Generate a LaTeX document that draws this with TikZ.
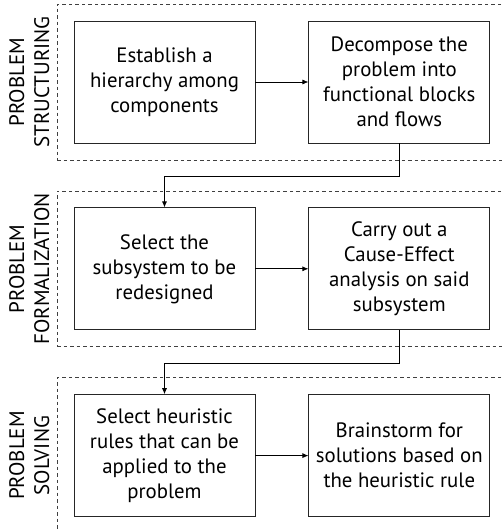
\documentclass[tikz,border=0pt]{standalone}
\usepackage{fontspec}
\setmainfont{PT Sans}
\usetikzlibrary{arrows.meta,positioning,fit}

\tikzset{
	block/.style={draw=black!85, line width=0.8pt, minimum width=181pt, minimum height=122pt,
		inner sep=0pt, align=center, font=\fontsize{20.8}{25}\selectfont},
	phase/.style={draw=black!75, line width=0.8pt, dash pattern=on 3.5pt off 3pt, inner sep=16.5pt},
	phaselabel/.style={rotate=90, align=center, font=\fontsize{21}{25}\selectfont},
	flow/.style={-{Latex[length=6pt,width=5pt]}, line width=0.7pt}
}

\begin{document}
\begin{tikzpicture}[x=1pt,y=-1pt]
	\clip (0,0) rectangle (502,531);

	% first row
	\node[block] (hierarchy) at (164.5,82) {Establish a\\hierarchy among\\components};
	\node[block, right=53pt of hierarchy] (decompose) {Decompose the\\problem into\\functional blocks\\and flows};

	% second row
	\node[block, below=64pt of hierarchy] (subsystem) {Select the\\subsystem to be\\redesigned};
	\node[block, right=53pt of subsystem] (causeeffect) {Carry out a\\Cause-Effect\\analysis on said\\subsystem};

	% third row
	\node[block, below=64pt of subsystem] (heuristic) {Select heuristic\\rules that can be\\applied to the\\problem};
	\node[block, right=53pt of heuristic] (brainstorm) {Brainstorm for\\solutions based on\\the heuristic rule};

	% phases
	\node[phase, fit=(hierarchy)(decompose)] (structuring) {};
	\node[phase, fit=(subsystem)(causeeffect)] (formalization) {};
	\node[phase, fit=(heuristic)(brainstorm)] (solving) {};

	\node[phaselabel] at ([xshift=-27.5pt]structuring.west) {PROBLEM\\STRUCTURING};
	\node[phaselabel] at ([xshift=-27.5pt]formalization.west) {PROBLEM\\FORMALIZATION};
	\node[phaselabel] at ([xshift=-27.5pt]solving.west) {PROBLEM\\SOLVING};

	% flows
	\draw[flow] (hierarchy) -- (decompose);
	\draw[flow] (subsystem) -- (causeeffect);
	\draw[flow] (heuristic) -- (brainstorm);
	\draw[flow] (decompose.south) -- ++(0,33) -| (subsystem.north);
	\draw[flow] (causeeffect.south) -- ++(0,33) -| (heuristic.north);
\end{tikzpicture}
\end{document}
